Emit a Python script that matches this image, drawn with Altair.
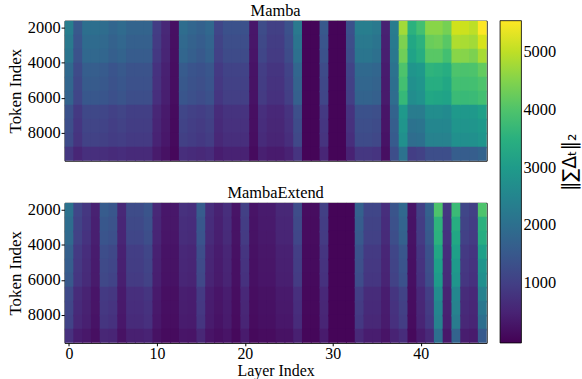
import altair as alt
import pandas as pd

# layer indices and token-row edges
layers = list(range(48))
row_starts = [1600, 2400, 3200, 4000, 4800, 5600, 6400, 7200, 8000, 8800]
row_ends = [2400, 3200, 4000, 4800, 5600, 6400, 7200, 8000, 8800, 9600]

# Mamba: one list per layer, values from the top token row down
mamba = [
    [2330, 2210, 2120, 1860, 1790, 1720, 1350, 1280, 1210, 840],
    [1510, 1430, 1370, 1210, 1160, 1120, 880, 830, 790, 540],
    [2000, 1900, 1820, 1600, 1540, 1480, 1160, 1100, 1040, 720],
    [2000, 1900, 1820, 1600, 1540, 1480, 1160, 1100, 1040, 720],
    [1940, 1840, 1770, 1550, 1490, 1440, 1130, 1070, 1010, 700],
    [1780, 1690, 1620, 1420, 1370, 1320, 1030, 980, 930, 640],
    [1890, 1800, 1720, 1510, 1460, 1400, 1100, 1040, 980, 680],
    [1730, 1640, 1570, 1380, 1330, 1280, 1000, 950, 900, 620],
    [1730, 1640, 1570, 1380, 1330, 1280, 1000, 950, 900, 620],
    [1730, 1640, 1570, 1380, 1330, 1280, 1000, 950, 900, 620],
    [960, 910, 870, 770, 740, 710, 560, 530, 500, 350],
    [580, 550, 530, 460, 450, 430, 340, 320, 300, 210],
    [190, 180, 170, 150, 150, 140, 110, 100, 100, 70],
    [1940, 1840, 1770, 1550, 1490, 1440, 1130, 1070, 1010, 700],
    [1780, 1690, 1620, 1420, 1370, 1320, 1030, 980, 930, 640],
    [1670, 1590, 1520, 1340, 1290, 1240, 970, 920, 870, 600],
    [1830, 1740, 1670, 1460, 1410, 1350, 1060, 1010, 950, 660],
    [1120, 1060, 1020, 900, 860, 830, 650, 620, 580, 400],
    [1340, 1270, 1220, 1070, 1030, 990, 780, 740, 700, 480],
    [1340, 1270, 1220, 1070, 1030, 990, 780, 740, 700, 480],
    [1340, 1270, 1220, 1070, 1030, 990, 780, 740, 700, 480],
    [300, 290, 270, 240, 230, 220, 170, 170, 160, 110],
    [1230, 1170, 1120, 980, 950, 910, 710, 680, 640, 440],
    [1010, 960, 920, 810, 780, 750, 590, 560, 530, 360],
    [1010, 960, 920, 810, 780, 750, 590, 560, 530, 360],
    [1340, 1270, 1220, 1070, 1030, 990, 780, 740, 700, 480],
    [2220, 2110, 2020, 1780, 1710, 1640, 1290, 1220, 1150, 800],
    [20, 20, 20, 20, 20, 20, 20, 20, 20, 20],
    [20, 20, 20, 20, 20, 20, 20, 20, 20, 20],
    [1510, 1430, 1370, 1210, 1160, 1120, 880, 830, 790, 540],
    [20, 20, 20, 20, 20, 20, 20, 20, 20, 20],
    [20, 20, 20, 20, 20, 20, 20, 20, 20, 20],
    [1340, 1270, 1220, 1070, 1030, 990, 780, 740, 700, 480],
    [2330, 2210, 2120, 1860, 1790, 1720, 1350, 1280, 1210, 840],
    [2330, 2210, 2120, 1860, 1790, 1720, 1350, 1280, 1210, 840],
    [2220, 2110, 2020, 1780, 1710, 1640, 1290, 1220, 1150, 800],
    [470, 450, 430, 380, 360, 350, 270, 260, 240, 170],
    [2280, 2230, 2170, 2060, 2000, 1940, 1720, 1600, 1550, 1270],
    [4770, 4440, 4320, 3980, 3870, 3700, 2960, 2850, 2740, 2060],
    [3530, 3300, 3190, 2850, 2740, 2680, 2280, 2060, 1940, 980],
    [3870, 3530, 3420, 2960, 2850, 2790, 2280, 2110, 2000, 1040],
    [4550, 4270, 4100, 3590, 3420, 3300, 2680, 2510, 2400, 1270],
    [4550, 4320, 4100, 3530, 3420, 3250, 2680, 2510, 2400, 1270],
    [4380, 4100, 3870, 3420, 3300, 3190, 2620, 2510, 2400, 1270],
    [5150, 4880, 4550, 3980, 3870, 3760, 2960, 2850, 2740, 1600],
    [5120, 4830, 4530, 3960, 3850, 3740, 2940, 2830, 2720, 1590],
    [4990, 4770, 4440, 3980, 3870, 3760, 2960, 2850, 2740, 1600],
    [5540, 5210, 4820, 4210, 3980, 3870, 3130, 2960, 2850, 1720],
]

# MambaExtend: one list per layer, values from the top token row down
extend = [
    [2050, 1950, 1870, 1640, 1580, 1520, 1190, 1130, 1070, 740],
    [1120, 1060, 1020, 900, 860, 830, 650, 620, 580, 400],
    [850, 810, 770, 680, 650, 630, 490, 470, 440, 310],
    [470, 450, 430, 380, 360, 350, 270, 260, 240, 170],
    [1560, 1480, 1420, 1250, 1200, 1150, 900, 860, 810, 560],
    [1450, 1380, 1320, 1160, 1120, 1070, 840, 800, 750, 520],
    [580, 550, 530, 460, 450, 430, 340, 320, 300, 210],
    [1230, 1170, 1120, 980, 950, 910, 710, 680, 640, 440],
    [1230, 1170, 1120, 980, 950, 910, 710, 680, 640, 440],
    [1400, 1330, 1270, 1120, 1080, 1040, 810, 770, 730, 500],
    [580, 550, 530, 460, 450, 430, 340, 320, 300, 210],
    [300, 290, 270, 240, 230, 220, 170, 170, 160, 110],
    [300, 290, 270, 240, 230, 220, 170, 170, 160, 110],
    [740, 700, 670, 590, 570, 550, 430, 410, 380, 270],
    [690, 660, 630, 550, 530, 510, 400, 380, 360, 250],
    [1560, 1480, 1420, 1250, 1200, 1150, 900, 860, 810, 560],
    [690, 660, 630, 550, 530, 510, 400, 380, 360, 250],
    [470, 450, 430, 380, 360, 350, 270, 260, 240, 170],
    [690, 660, 630, 550, 530, 510, 400, 380, 360, 250],
    [250, 240, 230, 200, 190, 190, 150, 140, 130, 90],
    [1010, 960, 920, 810, 780, 750, 590, 560, 530, 360],
    [250, 240, 230, 200, 190, 190, 150, 140, 130, 90],
    [360, 340, 330, 290, 280, 270, 210, 200, 190, 130],
    [360, 340, 330, 290, 280, 270, 210, 200, 190, 130],
    [580, 550, 530, 460, 450, 430, 340, 320, 300, 210],
    [580, 550, 530, 460, 450, 430, 340, 320, 300, 210],
    [1230, 1170, 1120, 980, 950, 910, 710, 680, 640, 440],
    [140, 130, 130, 110, 110, 100, 80, 80, 70, 50],
    [140, 130, 130, 110, 110, 100, 80, 80, 70, 50],
    [1010, 960, 920, 810, 780, 750, 590, 560, 530, 360],
    [20, 20, 20, 20, 20, 20, 20, 20, 20, 20],
    [20, 20, 20, 20, 20, 20, 20, 20, 20, 20],
    [20, 20, 20, 20, 20, 20, 20, 20, 20, 20],
    [1670, 1590, 1520, 1340, 1290, 1240, 970, 920, 870, 600],
    [1120, 1060, 1020, 900, 860, 830, 650, 620, 580, 400],
    [1120, 1060, 1020, 900, 860, 830, 650, 620, 580, 400],
    [690, 660, 630, 550, 530, 510, 400, 380, 360, 250],
    [1400, 1330, 1270, 1120, 1080, 1040, 810, 770, 730, 500],
    [1830, 1740, 1670, 1460, 1410, 1350, 1060, 1010, 950, 660],
    [250, 240, 230, 200, 190, 190, 150, 140, 130, 90],
    [1010, 960, 920, 810, 780, 750, 590, 560, 530, 360],
    [1670, 1590, 1520, 1340, 1290, 1240, 970, 920, 870, 600],
    [3980, 3590, 3530, 3300, 3130, 3020, 2680, 2510, 2400, 2000],
    [850, 810, 770, 680, 650, 630, 490, 470, 440, 310],
    [3760, 3420, 3300, 3130, 2960, 2850, 2510, 2400, 2280, 1720],
    [1120, 1060, 1020, 900, 860, 830, 650, 620, 580, 400],
    [1010, 960, 920, 810, 780, 750, 590, 560, 530, 360],
    [3980, 3530, 3420, 3130, 2850, 2740, 2400, 2170, 2000, 1550],
]

color_domain = [-30, 5540]
x_ticks = [0, 10, 20, 30, 40]
y_ticks = [2000, 4000, 6000, 8000]
cbar_ticks = [1000, 2000, 3000, 4000, 5000]
cbar_title = ["‖∑Δₜ‖₂"]

FONT = "Liberation Serif"
W, H = 425, 141


def frame(cols):
    # cells overlap their right/lower neighbour slightly (drawn underneath it)
    # so that anti-aliasing leaves no hairline seams between cells
    recs = []
    for li, col in zip(layers, cols):
        for r, v in enumerate(col):
            recs.append({"x0": li - 0.5, "x1": li + 0.62,
                         "y0": row_starts[r], "y1": row_ends[r] + 90, "value": v})
    return pd.DataFrame(recs)


cscale = alt.Scale(scheme="viridis", domain=color_domain)


def heat(df, show_x):
    xaxis = alt.Axis(values=x_ticks, labelFontSize=16, title="Layer Index",
                     titleFontSize=16, titleFontWeight="normal", tickSize=3,
                     labelPadding=0, titlePadding=0.5, grid=False, domain=False,
                     tickColor="black", labelFlush=False) if show_x else None
    return alt.Chart(df).mark_rect(clip=True).encode(
        x=alt.X("x0:Q", scale=alt.Scale(domain=[-0.5, 47.5], nice=False, zero=False),
                axis=xaxis, title="Layer Index" if show_x else None),
        x2="x1:Q",
        y=alt.Y("y0:Q", scale=alt.Scale(domain=[1600, 9600], nice=False, zero=False, reverse=True),
                axis=alt.Axis(values=y_ticks, format="d", labelFontSize=16.5, title="Token Index",
                              titleFontSize=17, titleFontWeight="normal", tickSize=3.5,
                              labelPadding=1, titlePadding=3, grid=False, domain=False,
                              tickColor="black")),
        y2="y1:Q",
        color=alt.Color("value:Q", scale=cscale,
                        legend=alt.Legend(title=None, values=cbar_ticks, orient="none",
                                          legendX=438.5, legendY=0, format="d",
                                          gradientLength=324.5, gradientThickness=21.5,
                                          labelFontSize=16.5, labelFont=FONT, labelColor="black",
                                          labelOffset=2, gradientStrokeColor="black",
                                          gradientStrokeWidth=0.8)),
    )


label_layer = alt.Chart(pd.DataFrame({"t": cbar_title})).mark_text(
    angle=270, font="DejaVu Sans", fontSize=19, color="black", align="center", baseline="middle"
).encode(x=alt.value(508.5), y=alt.value(142.5), text="t:N")

top = alt.layer(heat(frame(mamba), False), label_layer).properties(
    width=W, height=H,
    title=alt.TitleParams("Mamba", fontSize=16.5, fontWeight="normal", font=FONT, offset=0))
bottom = heat(frame(extend), True).properties(
    width=W, height=H,
    title=alt.TitleParams("MambaExtend", fontSize=16.5, fontWeight="normal", font=FONT, offset=0))

chart = alt.vconcat(top, bottom, spacing=42.4, bounds="flush").configure(
    font=FONT, padding={"left": 6, "top": 1.5, "right": 2, "bottom": 0}
).configure_axis(
    labelFont=FONT, titleFont=FONT, labelColor="black", titleColor="black"
).configure_view(
    stroke="black", strokeWidth=1
).configure_title(color="black")

chart.save("out.html", embed_options={"renderer": "svg", "actions": False})
